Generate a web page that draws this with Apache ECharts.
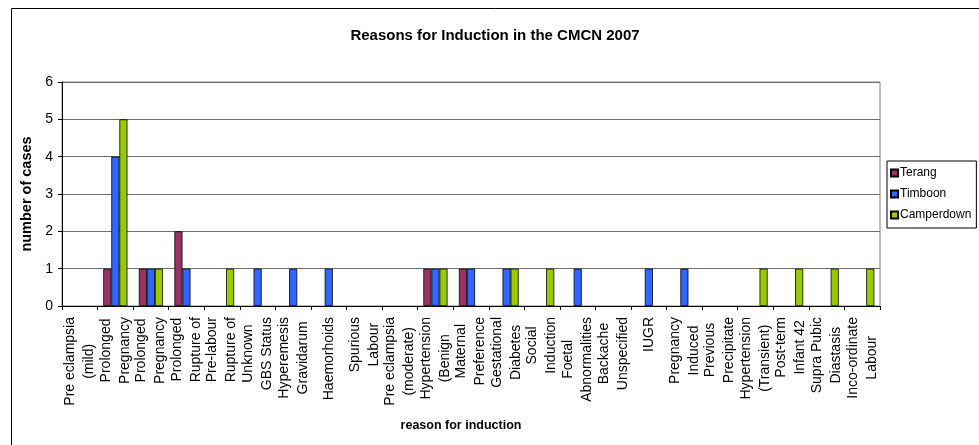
<!DOCTYPE html>
<html>
<head>
<meta charset="utf-8">
<script src="https://cdn.jsdelivr.net/npm/echarts@6/dist/echarts.min.js"></script>
<style>html,body{margin:0;padding:0;background:#fff;}#c{width:979px;height:445px;}</style>
</head>
<body>
<div id="c"></div>
<script>
const categories = [
  "Pre eclampsia\n(mild)", "Prolonged\nPregnancy", "Prolonged\nPregnancy", "Prolonged\nRupture of",
  "Pre-labour\nRupture of", "Unknown\nGBS Status", "Hyperemesis\nGravidarum", "Haemorhoids",
  "Spurious\nLabour", "Pre eclampsia\n(moderate)", "Hypertension\n(Benign", "Maternal\nPreference",
  "Gestational\nDiabetes", "Social\nInduction", "Foetal\nAbnormalities", "Backache\nUnspecified",
  "IUGR", "Pregnancy\nInduced", "Previous\nPrecipitate", "Hypertension\n(Transient)",
  "Post-term\nInfant 42", "Supra Pubic\nDiastasis", "Inco-ordinate\nLabour"
];
const terang     = [0,1,1,2,0,0,0,0,0,0,1,1,0,0,0,0,0,0,0,0,0,0,0];
const timboon    = [0,4,1,1,0,1,1,1,0,0,1,1,1,0,1,0,1,1,0,0,0,0,0];
const camperdown = [0,5,1,0,1,0,0,0,0,0,1,0,1,1,0,0,0,0,0,1,1,1,1];
const yTicks = [0,1,2,3,4,5,6];

const chart = echarts.init(document.getElementById('c'), null, {renderer:'canvas'});
const font = 'Liberation Sans, Arial, sans-serif';
const barStyle = (c) => ({color: c, borderColor: '#000', borderWidth: 0.8});
const nz = (arr) => arr.map(v => v === 0 ? null : v);
chart.setOption({
  animation: false,
  textStyle: {fontFamily: font},
  title: {
    text: 'Reasons for Induction in the CMCN 2007',
    left: 490, top: 23, textAlign: 'center',
    textStyle: {fontSize: 15, fontWeight: 'bold', color: '#000', fontFamily: font}
  },
  legend: {
    orient: 'vertical', left: 887, top: 161,
    padding: [6, 5, 7, 3],
    itemGap: 9, itemWidth: 7, itemHeight: 7,
    borderColor: '#000', borderWidth: 1,
    icon: 'rect',
    textStyle: {fontSize: 12, color: '#000', fontFamily: font, padding: [0,0,0,-3]},
    data: ['Terang', 'Timboon', 'Camperdown']
  },
  grid: {
    left: 62, right: 99, top: 82, bottom: 139,
    show: true, borderColor: '#808080', borderWidth: 1, backgroundColor: '#fff'
  },
  xAxis: {
    type: 'category',
    data: categories,
    name: 'reason for induction',
    nameLocation: 'middle', nameGap: 113,
    nameTextStyle: {fontSize: 12.5, fontWeight: 'bold', color: '#000', fontFamily: font, padding: [0,0,0,-20]},
    axisLine: {lineStyle: {color: '#000', width: 1}},
    axisTick: {show: true, alignWithLabel: false, length: 4, lineStyle: {color: '#000'}},
    axisLabel: {
      rotate: 90, interval: 0, margin: 11, fontSize: 14, color: '#000', fontFamily: font,
      lineHeight: 19,
      formatter: (v) => v.split('\n').map(s => '{c|' + s + '}').join('\n'),
      rich: {c: {align: 'center', fontSize: 14, color: '#000', fontFamily: font, lineHeight: 19}}
    },
    splitLine: {show: false}
  },
  yAxis: {
    type: 'value', min: yTicks[0], max: yTicks[yTicks.length-1], interval: 1,
    name: 'number of cases',
    nameLocation: 'middle', nameGap: 22,
    nameTextStyle: {fontSize: 14.5, fontWeight: 'bold', color: '#000', fontFamily: font},
    axisLine: {show: true, lineStyle: {color: '#000', width: 1}},
    axisTick: {show: true, length: 4, lineStyle: {color: '#000'}},
    axisLabel: {fontSize: 14, color: '#000', fontFamily: font, margin: 9},
    splitLine: {show: true, lineStyle: {color: '#6e6e6e', width: 1.2}}
  },
  series: [
    {name: 'Terang', type: 'bar', data: nz(terang), itemStyle: barStyle('#993366'), barGap: '0%', barCategoryGap: '32%'},
    {name: 'Timboon', type: 'bar', data: nz(timboon), itemStyle: barStyle('#3366FF'), barGap: '0%', barCategoryGap: '32%'},
    {name: 'Camperdown', type: 'bar', data: nz(camperdown), itemStyle: barStyle('#99CC00'), barGap: '0%', barCategoryGap: '32%'}
  ],
  graphic: [
    {type: 'polyline', silent: true, shape: {points: [[11.5, 445], [11.5, 8.5], [979, 8.5]]}, style: {stroke: '#000', lineWidth: 1, fill: null}}
  ]
});
</script>
</body>
</html>
